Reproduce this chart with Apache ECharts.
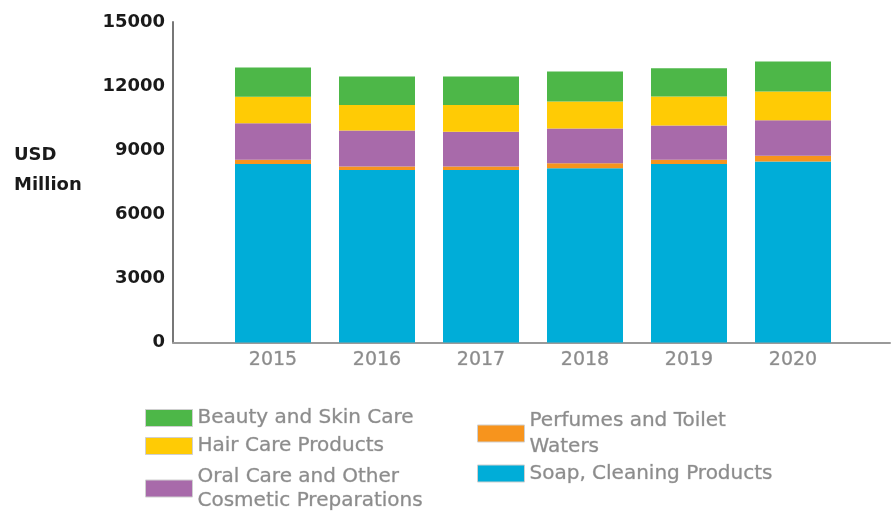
<!DOCTYPE html>
<html><head><meta charset="utf-8">
<script src="https://cdn.jsdelivr.net/npm/echarts@6/dist/echarts.min.js"></script>
<style>html,body{margin:0;padding:0;background:#fff}#c{width:891px;height:515px}</style>
</head><body><div id="c"></div>
<script>
const years = ['2015','2016','2017','2018','2019','2020'];
const soap = [8350, 8070, 8070, 8160, 8350, 8470];
const perfumes = [200, 165, 165, 235, 200, 265];
const oral = [1710, 1685, 1625, 1620, 1605, 1670];
const hair = [1245, 1190, 1250, 1265, 1355, 1340];
const beauty = [1360, 1340, 1340, 1405, 1330, 1405];
const yTicks = {min: 0, max: 15000, interval: 3000};

const names = {
  beauty: 'Beauty and Skin Care',
  hair: 'Hair Care Products',
  oral: 'Oral Care and Other Cosmetic Preparations',
  perfumes: 'Perfumes and Toilet Waters',
  soap: 'Soap, Cleaning Products'
};
const colors = {beauty:'#4DB748', hair:'#FFCB05', oral:'#A86AAA', perfumes:'#F7941D', soap:'#00ADD8'};
const FONT = 'DejaVu Sans';

function mk(key, data) {
  return {
    name: names[key], type: 'bar', stack: 'total', xAxisIndex: 1, yAxisIndex: 1,
    barWidth: 76, data: data, itemStyle: {color: colors[key]}
  };
}

const legendText = {
  color: '#8c8c8c', fontFamily: FONT, fontSize: 20, lineHeight: 26,
  textBorderColor: 'rgba(90,90,90,0.35)', textBorderWidth: 0.6
};
function leg(key, left, top, label, lh) {
  return {
    orient: 'vertical', left: left, top: top, padding: 0, itemWidth: 47, itemHeight: 17,
    icon: 'rect', data: [names[key]], selectedMode: false,
    itemStyle: {borderColor: '#cfcfcf', borderWidth: 1},
    formatter: () => label,
    textStyle: Object.assign({}, legendText, lh ? {lineHeight: lh} : {})
  };
}

const chart = echarts.init(document.getElementById('c'), null, {renderer: 'canvas'});
chart.setOption({
  animation: false,
  title: {
    text: 'USD\nMillion', left: 14, top: 140, padding: 0,
    textStyle: {fontFamily: FONT, fontWeight: 'bold', fontSize: 18, lineHeight: 30, color: '#1a1a1a'}
  },
  grid: [
    {left: 173, right: 1, top: 22, bottom: 172.5},
    {left: 221, right: 46, top: 22, bottom: 172.5}
  ],
  xAxis: [
    {type: 'value', gridIndex: 0, min: 0, max: 1,
     axisLine: {show: true, lineStyle: {color: '#9a9a9a', width: 2}},
     axisTick: {show: false}, axisLabel: {show: false}, splitLine: {show: false}},
    {type: 'category', gridIndex: 1, data: years,
     axisLine: {show: false}, axisTick: {show: false},
     axisLabel: {color: '#8c8c8c', fontFamily: FONT, fontSize: 19, margin: 8,
       textBorderColor: 'rgba(90,90,90,0.35)', textBorderWidth: 0.6}}
  ],
  yAxis: [
    {type: 'value', gridIndex: 0, min: yTicks.min, max: yTicks.max, interval: yTicks.interval,
     axisLine: {show: true, lineStyle: {color: '#777', width: 2}},
     axisTick: {show: false}, splitLine: {show: false},
     axisLabel: {color: '#1a1a1a', fontFamily: FONT, fontWeight: 'bold', fontSize: 18, margin: 8,
       formatter: v => String(v)}},
    {type: 'value', gridIndex: 1, min: yTicks.min, max: yTicks.max, interval: yTicks.interval, show: false,
     splitLine: {show: false}}
  ],
  legend: [
    leg('beauty', 145, 405, 'Beauty and Skin Care'),
    leg('hair', 145, 433, 'Hair Care Products'),
    leg('oral', 145, 464.5, 'Oral Care and Other\nCosmetic Preparations', 24),
    leg('perfumes', 477, 407.5, 'Perfumes and Toilet\nWaters'),
    leg('soap', 477, 460.5, 'Soap, Cleaning Products')
  ],
  series: [
    mk('soap', soap), mk('perfumes', perfumes), mk('oral', oral), mk('hair', hair), mk('beauty', beauty)
  ]
});
</script></body></html>
